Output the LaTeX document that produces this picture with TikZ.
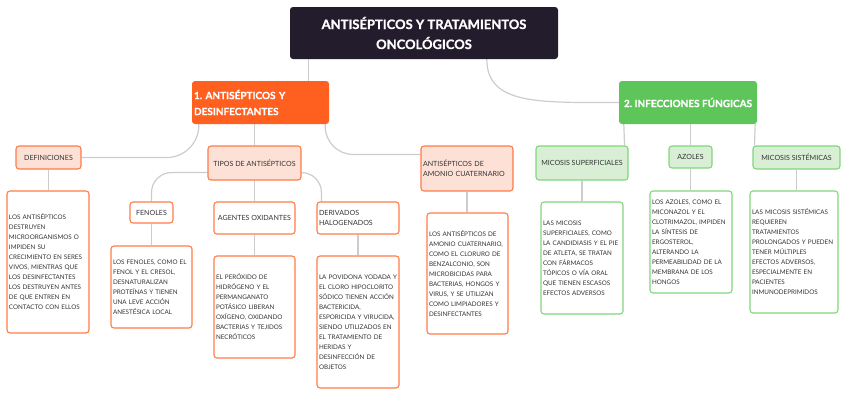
\documentclass[tikz,border=0pt]{standalone}
\usepackage{fontspec}
\setmainfont{Lato}[BoldFeatures={FakeBold=0.8}]
\usetikzlibrary{calc,backgrounds}
\definecolor{rootbg}{HTML}{231C2D}
\definecolor{orangemain}{HTML}{FF5F1F}
\definecolor{orangeline}{HTML}{FF7B47}
\definecolor{orangesoft}{HTML}{FDE1D6}
\definecolor{greenmain}{HTML}{5EC55A}
\definecolor{greenline}{HTML}{80D67B}
\definecolor{greensoft}{HTML}{D8EFD5}
\definecolor{linkgray}{HTML}{CCCCCC}
\definecolor{inkgray}{HTML}{333333}
\newcommand{\leaffont}{\fontsize{6.3}{10}\selectfont}
\newcommand{\topicfont}{\fontsize{7.1}{10}\selectfont}
\frenchspacing

\begin{document}
\begin{tikzpicture}[x=1pt, y=-1pt,
    every node/.style={rounded corners=3pt, inner sep=2pt, text=inkgray},
    sz/.style 2 args={minimum width=#1pt, minimum height=#2pt},
    link/.style={draw=linkgray, line width=1.2pt},
    rootbox/.style={fill=rootbg, text=white, align=center,
        font=\fontsize{13}{20}\selectfont\bfseries},
    branch/.style={fill=#1main, text=white,
        font=\fontsize{10}{16}\selectfont\bfseries},
    topic/.style={draw=#1line, fill=#1soft, line width=1.1pt, font=\topicfont},
    subtopic/.style={draw=#1line, fill=white, line width=1.1pt, font=\topicfont},
    leaf/.style={draw=#1line, fill=white, line width=1.1pt, align=left,
        font=\leaffont}
]
\useasboundingbox (0,0) rectangle (848,405);

% main topic and branches
\node[rootbox, sz={268}{52}] (root) at (424,33)
    {ANTISÉPTICOS Y TRATAMIENTOS\\ONCOLÓGICOS};
\node[branch=orange, sz={137}{43}, text width=133pt, align=left] (n1) at (260.5,102.5)
    {1. ANTISÉPTICOS Y\\DESINFECTANTES};
\node[branch=green, sz={138}{43}] (n2) at (688,102.5) {2. INFECCIONES FÚNGICAS};

% antisepticos y desinfectantes
\node[topic=orange, sz={65}{23}] (def) at (48.5,157.5) {DEFINICIONES};
\node[topic=orange, sz={93}{34}] (tipos) at (254.5,163) {TIPOS DE ANTISÉPTICOS};
\node[topic=orange, sz={92}{45}, text width=88pt, align=left] (amonio) at (467,168.5)
    {ANTISÉPTICOS DE\\AMONIO CUATERNARIO};
\node[subtopic=orange, sz={43}{21}] (fenoles) at (151.5,212.5) {FENOLES};
\node[subtopic=orange, sz={81}{32}] (agentes) at (254.5,218) {AGENTES OXIDANTES};
\node[subtopic=orange, sz={82}{32}, text width=78pt, align=left] (derivados) at (358,218)
    {DERIVADOS\\HALOGENADOS};

\node[leaf=orange, sz={82}{142}, text width=78pt] (defleaf) at (48,262)
    {LOS ANTISÉPTICOS\\DESTRUYEN\\MICROORGANISMOS O\\IMPIDEN SU\\CRECIMIENTO EN SERES\\VIVOS, MIENTRAS QUE\\LOS DESINFECTANTES\\LOS DESTRUYEN ANTES\\DE QUE ENTREN EN\\CONTACTO CON ELLOS};
\node[leaf=orange, sz={81}{82}, text width=77pt] (fenleaf) at (151.5,287)
    {LOS FENOLES, COMO EL\\FENOL Y EL CRESOL,\\DESNATURALIZAN\\PROTEÍNAS Y TIENEN\\UNA LEVE ACCIÓN\\ANESTÉSICA LOCAL};
\node[leaf=orange, sz={81}{102}, text width=77pt] (ageleaf) at (254.5,307)
    {EL PERÓXIDO DE\\HIDRÓGENO Y EL\\PERMANGANATO\\POTÁSICO LIBERAN\\OXÍGENO, OXIDANDO\\BACTERIAS Y TEJIDOS\\NECRÓTICOS};
\node[leaf=orange, sz={82}{132}, text width=78pt] (derleaf) at (358,322)
    {LA POVIDONA YODADA Y\\EL CLORO HIPOCLORITO\\SÓDICO TIENEN ACCIÓN\\BACTERICIDA,\\ESPORICIDA Y VIRUCIDA,\\SIENDO UTILIZADOS EN\\EL TRATAMIENTO DE\\HERIDAS Y\\DESINFECCIÓN DE\\OBJETOS};
\node[leaf=orange, sz={81}{121}, text width=77pt] (amoleaf) at (467.5,273.5)
    {LOS ANTISÉPTICOS DE\\AMONIO CUATERNARIO,\\COMO EL CLORURO DE\\BENZALCONIO, SON\\MICROBICIDAS PARA\\BACTERIAS, HONGOS Y\\VIRUS, Y SE UTILIZAN\\COMO LIMPIADORES Y\\DESINFECTANTES};

% infecciones fungicas
\node[topic=green, sz={92}{34}] (msup) at (582,163) {MICOSIS SUPERFICIALES};
\node[topic=green, sz={43}{22}] (azoles) at (690.5,157) {AZOLES};
\node[topic=green, sz={87}{23}] (msis) at (796.5,157.5) {MICOSIS SISTÉMICAS};

\node[leaf=green, sz={82}{112}, text width=78pt] (msleaf) at (582,258)
    {LAS MICOSIS\\SUPERFICIALES, COMO\\LA CANDIDIASIS Y EL PIE\\DE ATLETA, SE TRATAN\\CON FÁRMACOS\\TÓPICOS O VÍA ORAL\\QUE TIENEN ESCASOS\\EFECTOS ADVERSOS};
\node[leaf=green, sz={82}{102}, text width=78pt] (azleaf) at (691,242)
    {LOS AZOLES, COMO EL\\MICONAZOL Y EL\\CLOTRIMAZOL, IMPIDEN\\LA SÍNTESIS DE\\ERGOSTEROL,\\ALTERANDO LA\\PERMEABILIDAD DE LA\\MEMBRANA DE LOS\\HONGOS};
\node[leaf=green, sz={88}{122}, text width=84pt] (mileaf) at (794,252)
    {LAS MICOSIS SISTÉMICAS\\REQUIEREN\\TRATAMIENTOS\\PROLONGADOS Y PUEDEN\\TENER MÚLTIPLES\\EFECTOS ADVERSOS,\\ESPECIALMENTE EN\\PACIENTES\\INMUNODEPRIMIDOS};

% connectors
\begin{scope}[on background layer]
\draw[link] ($(root.south west)+(19,0)$) -- ($(n1.north west)+(117,0)$);
\draw[link] ($(root.south west)+(197,0)$) .. controls +(0,46) and +(-79,0) .. (n2.west);
\draw[link, rounded corners=32pt] ($(n1.south west)+(7,0)$) |- (def.east);
\draw[link] (tipos.north |- n1.south) -- (tipos.north);
\draw[link, rounded corners=28pt] ($(n1.south east)+(-4,0)$) |- ($(amonio.north west)+(0,9)$);
\draw[link, rounded corners=20pt] ($(tipos.south west)+(0,-8)$) -| (fenoles.north);
\draw[link] (tipos.south) -- (agentes.north);
\draw[link, rounded corners=20pt] ($(tipos.south east)+(0,-8)$) -| ($(derivados.north west)+(5,0)$);
\draw[link] (def.south) -- (def.south |- defleaf.north);
\draw[link] (fenoles.south) -- (fenleaf.north);
\draw[link] (agentes.south) -- (ageleaf.north);
\draw[link] (derivados.south) -- (derleaf.north);
\draw[link] (amonio.south) -- (amonio.south |- amoleaf.north);
\draw[link] ($(n2.south west)+(5,0)$) -- ($(msup.north east)+(-4,0)$);
\draw[link] (azoles.north |- n2.south) -- (azoles.north);
\draw[link] ($(n2.south east)+(-2,0)$) -- ($(msis.north west)+(2,0)$);
\draw[link] (msup.south) -- (msleaf.north);
\draw[link] (azoles.south) -- (azoles.south |- azleaf.north);
\draw[link] (msis.south) -- (msis.south |- mileaf.north);
\end{scope}
\end{tikzpicture}
\end{document}
